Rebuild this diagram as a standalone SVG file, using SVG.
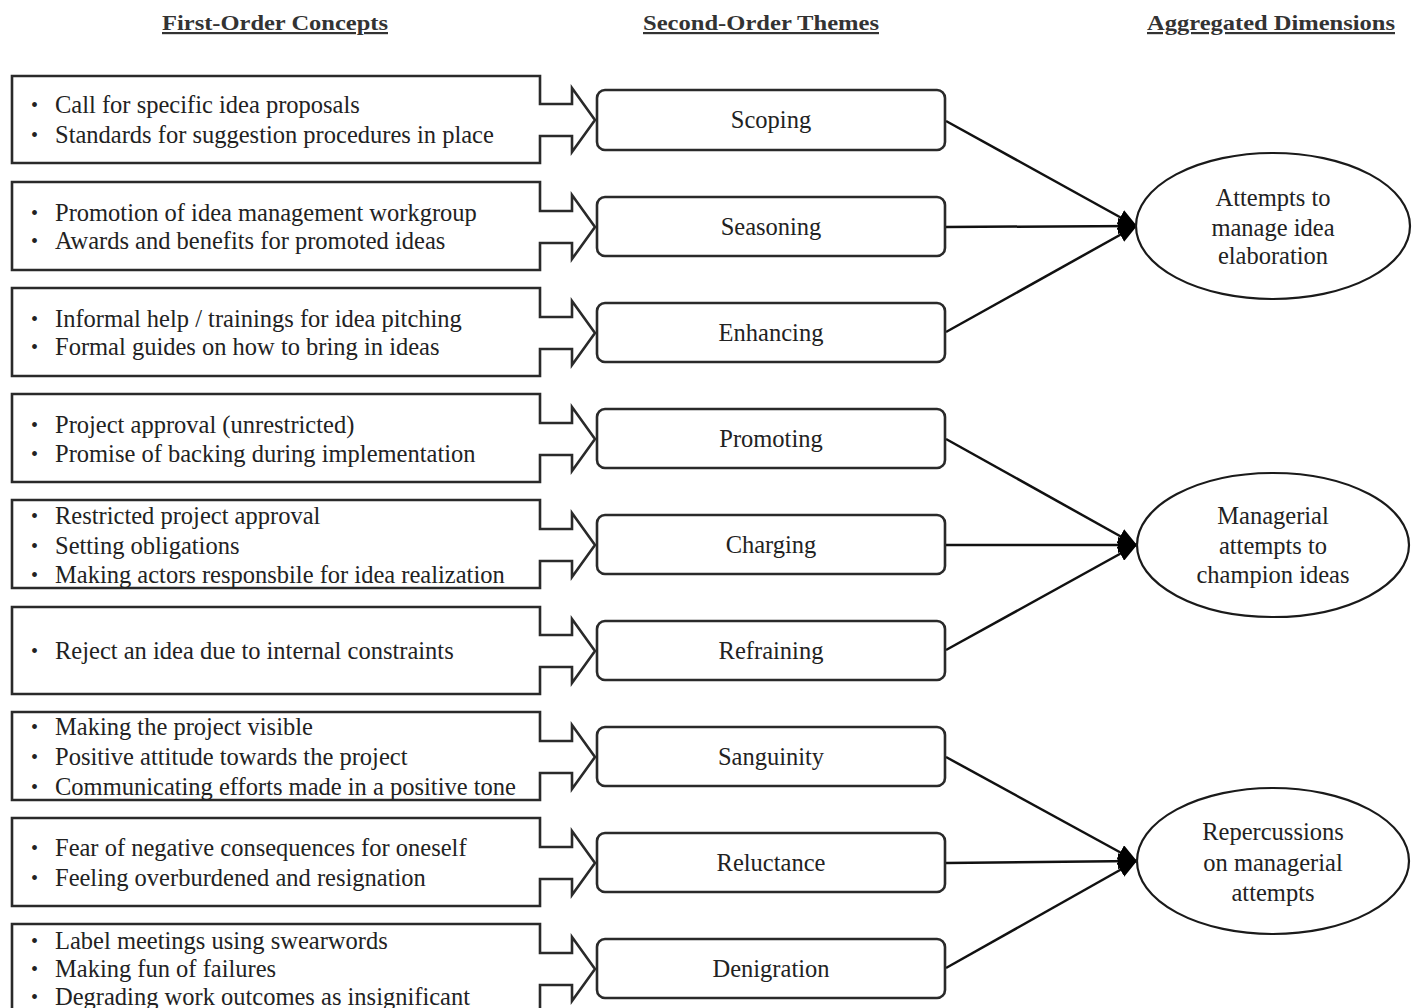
<svg xmlns="http://www.w3.org/2000/svg" width="1421" height="1008" viewBox="0 0 1421 1008">
<defs>
<style>
.hdr{font-family:"Liberation Serif","Times New Roman",serif;font-weight:bold;font-size:22px;fill:#333;text-anchor:middle;text-decoration:underline}
.t{font-family:"Liberation Serif","Times New Roman",serif;font-size:24.5px;fill:#222}
.b{font-family:"Liberation Serif","Times New Roman",serif;font-size:20px;fill:#222}
.c{font-family:"Liberation Serif","Times New Roman",serif;font-size:24.5px;fill:#222;text-anchor:middle}
.box{fill:#fff;stroke:#2a2a2a;stroke-width:2.6}
.theme{fill:#fff;stroke:#2a2a2a;stroke-width:2.6}
.dim{fill:#fff;stroke:#1a1a1a;stroke-width:2.2}
.ln{stroke:#111;stroke-width:2.5;fill:none;marker-end:url(#ah)}
</style>
<marker id="ah" viewBox="0 0 20 16" refX="18" refY="8" markerWidth="20" markerHeight="16" markerUnits="userSpaceOnUse" orient="auto">
<path d="M0,0 L20,8 L0,16 Z" fill="#000"/>
</marker>
</defs>
<rect width="1421" height="1008" fill="#fff"/>
<g id="headers">
<text class="hdr" x="275" y="30" textLength="226" lengthAdjust="spacingAndGlyphs">First-Order Concepts</text>
<text class="hdr" x="761" y="30" textLength="236" lengthAdjust="spacingAndGlyphs">Second-Order Themes</text>
<text class="hdr" x="1271" y="30" textLength="248" lengthAdjust="spacingAndGlyphs">Aggregated Dimensions</text>
</g>
<g id="connectors">
<line class="ln" x1="946" y1="121" x2="1136" y2="226"/>
<line class="ln" x1="946" y1="227" x2="1136" y2="226"/>
<line class="ln" x1="946" y1="332" x2="1136" y2="226"/>
<line class="ln" x1="946" y1="439" x2="1136" y2="545"/>
<line class="ln" x1="946" y1="545" x2="1136" y2="545"/>
<line class="ln" x1="946" y1="650" x2="1136" y2="545"/>
<line class="ln" x1="946" y1="757" x2="1136" y2="861"/>
<line class="ln" x1="946" y1="863" x2="1136" y2="861"/>
<line class="ln" x1="946" y1="968" x2="1136" y2="861"/>
</g>
<g id="concept1">
<path class="box" d="M12,76 H540 V104 H572 V88 L595,120 L572,152 V136 H540 V163 H12 Z"/>
<text class="b" x="31" y="112">•</text><text class="t" x="55" y="113">Call for specific idea proposals</text>
<text class="b" x="31" y="142">•</text><text class="t" x="55" y="143">Standards for suggestion procedures in place</text>
</g>
<g id="concept2">
<path class="box" d="M12,182 H540 V211 H572 V195 L595,227 L572,259 V243 H540 V270 H12 Z"/>
<text class="b" x="31" y="220">•</text><text class="t" x="55" y="221">Promotion of idea management workgroup</text>
<text class="b" x="31" y="248">•</text><text class="t" x="55" y="249">Awards and benefits for promoted ideas</text>
</g>
<g id="concept3">
<path class="box" d="M12,288 H540 V317 H572 V301 L595,333 L572,365 V349 H540 V376 H12 Z"/>
<text class="b" x="31" y="326">•</text><text class="t" x="55" y="327">Informal help / trainings for idea pitching</text>
<text class="b" x="31" y="354">•</text><text class="t" x="55" y="355">Formal guides on how to bring in ideas</text>
</g>
<g id="concept4">
<path class="box" d="M12,394 H540 V423 H572 V407 L595,439 L572,471 V455 H540 V482 H12 Z"/>
<text class="b" x="31" y="432">•</text><text class="t" x="55" y="433">Project approval (unrestricted)</text>
<text class="b" x="31" y="461">•</text><text class="t" x="55" y="462">Promise of backing during implementation</text>
</g>
<g id="concept5">
<path class="box" d="M12,500 H540 V529 H572 V513 L595,545 L572,577 V561 H540 V588 H12 Z"/>
<text class="b" x="31" y="523">•</text><text class="t" x="55" y="524">Restricted project approval</text>
<text class="b" x="31" y="553">•</text><text class="t" x="55" y="554">Setting obligations</text>
<text class="b" x="31" y="582">•</text><text class="t" x="55" y="583">Making actors responsbile for idea realization</text>
</g>
<g id="concept6">
<path class="box" d="M12,607 H540 V635 H572 V619 L595,651 L572,683 V667 H540 V694 H12 Z"/>
<text class="b" x="31" y="658">•</text><text class="t" x="55" y="659">Reject an idea due to internal constraints</text>
</g>
<g id="concept7">
<path class="box" d="M12,712 H540 V741 H572 V725 L595,757 L572,789 V773 H540 V800 H12 Z"/>
<text class="b" x="31" y="734">•</text><text class="t" x="55" y="735">Making the project visible</text>
<text class="b" x="31" y="764">•</text><text class="t" x="55" y="765">Positive attitude towards the project</text>
<text class="b" x="31" y="794">•</text><text class="t" x="55" y="795">Communicating efforts made in a positive tone</text>
</g>
<g id="concept8">
<path class="box" d="M12,818 H540 V847 H572 V831 L595,863 L572,895 V879 H540 V906 H12 Z"/>
<text class="b" x="31" y="855">•</text><text class="t" x="55" y="856">Fear of negative consequences for oneself</text>
<text class="b" x="31" y="885">•</text><text class="t" x="55" y="886">Feeling overburdened and resignation</text>
</g>
<g id="concept9">
<path class="box" d="M12,924 H540 V953 H572 V937 L595,969 L572,1001 V985 H540 V1012 H12 Z"/>
<text class="b" x="31" y="948">•</text><text class="t" x="55" y="949">Label meetings using swearwords</text>
<text class="b" x="31" y="976">•</text><text class="t" x="55" y="977">Making fun of failures</text>
<text class="b" x="31" y="1004">•</text><text class="t" x="55" y="1005">Degrading work outcomes as insignificant</text>
</g>
<g id="theme-scoping"><rect class="theme" x="597" y="90" width="348" height="60" rx="8"/><text class="c" x="771" y="128">Scoping</text></g>
<g id="theme-seasoning"><rect class="theme" x="597" y="197" width="348" height="59" rx="8"/><text class="c" x="771" y="235">Seasoning</text></g>
<g id="theme-enhancing"><rect class="theme" x="597" y="303" width="348" height="59" rx="8"/><text class="c" x="771" y="341">Enhancing</text></g>
<g id="theme-promoting"><rect class="theme" x="597" y="409" width="348" height="59" rx="8"/><text class="c" x="771" y="447">Promoting</text></g>
<g id="theme-charging"><rect class="theme" x="597" y="515" width="348" height="59" rx="8"/><text class="c" x="771" y="553">Charging</text></g>
<g id="theme-refraining"><rect class="theme" x="597" y="621" width="348" height="59" rx="8"/><text class="c" x="771" y="659">Refraining</text></g>
<g id="theme-sanguinity"><rect class="theme" x="597" y="727" width="348" height="59" rx="8"/><text class="c" x="771" y="765">Sanguinity</text></g>
<g id="theme-reluctance"><rect class="theme" x="597" y="833" width="348" height="59" rx="8"/><text class="c" x="771" y="871">Reluctance</text></g>
<g id="theme-denigration"><rect class="theme" x="597" y="939" width="348" height="59" rx="8"/><text class="c" x="771" y="977">Denigration</text></g>
<g id="dim-elaboration">
<ellipse class="dim" cx="1273" cy="226" rx="137" ry="73"/>
<text class="c" x="1273" y="206">Attempts to</text>
<text class="c" x="1273" y="236">manage idea</text>
<text class="c" x="1273" y="264">elaboration</text>
</g>
<g id="dim-champion">
<ellipse class="dim" cx="1273" cy="545" rx="136" ry="72"/>
<text class="c" x="1273" y="524">Managerial</text>
<text class="c" x="1273" y="554">attempts to</text>
<text class="c" x="1273" y="583">champion ideas</text>
</g>
<g id="dim-repercussions">
<ellipse class="dim" cx="1273" cy="861" rx="136" ry="73"/>
<text class="c" x="1273" y="840">Repercussions</text>
<text class="c" x="1273" y="871">on managerial</text>
<text class="c" x="1273" y="901">attempts</text>
</g>
</svg>
